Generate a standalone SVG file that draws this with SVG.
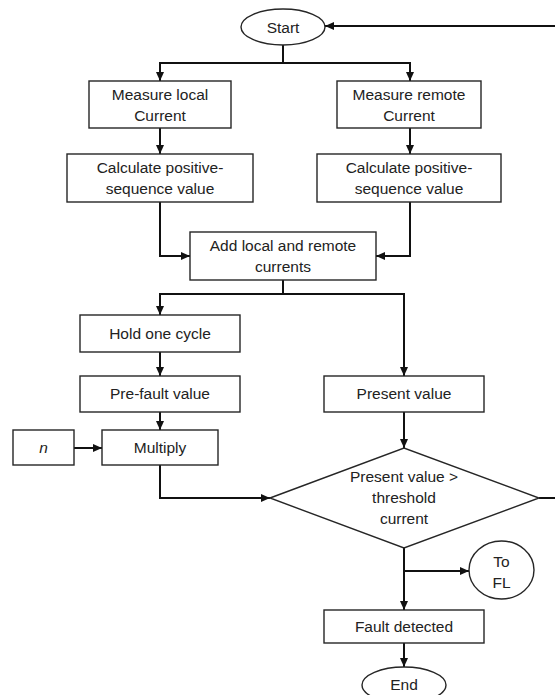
<svg xmlns="http://www.w3.org/2000/svg" width="555" height="695" viewBox="0 0 555 695">
<style>
.box{fill:#fff;stroke:#262626;stroke-width:1.4}
.t{font-family:"Liberation Sans",Arial,sans-serif;font-size:15.5px;fill:#222;text-anchor:middle}
.c{fill:none;stroke:#111;stroke-width:2}
</style>
<defs>
<marker id="ah" markerWidth="10" markerHeight="8" refX="9" refY="4" orient="auto" markerUnits="userSpaceOnUse">
<path d="M0,0 L9,4 L0,8 Z" fill="#111"/>
</marker>
</defs>
<rect width="555" height="695" fill="#fff"/>
<g id="connectors">
<path class="c" d="M555,26 L325,26" marker-end="url(#ah)"/>
<path class="c" d="M283,45 L283,63 L160,63 L160,81" marker-end="url(#ah)"/>
<path class="c" d="M283,63 L410,63 L410,81" marker-end="url(#ah)"/>
<path class="c" d="M160,128 L160,154" marker-end="url(#ah)"/>
<path class="c" d="M410,128 L410,154" marker-end="url(#ah)"/>
<path class="c" d="M160,202 L160,256 L190,256" marker-end="url(#ah)"/>
<path class="c" d="M410,202 L410,256 L376,256" marker-end="url(#ah)"/>
<path class="c" d="M283,280 L283,294 L160,294 L160,315" marker-end="url(#ah)"/>
<path class="c" d="M283,294 L404,294 L404,376" marker-end="url(#ah)"/>
<path class="c" d="M160,352 L160,376" marker-end="url(#ah)"/>
<path class="c" d="M160,412 L160,430" marker-end="url(#ah)"/>
<path class="c" d="M74,448 L102,448" marker-end="url(#ah)"/>
<path class="c" d="M160,465 L160,498 L270,498" marker-end="url(#ah)"/>
<path class="c" d="M404,412 L404,448" marker-end="url(#ah)"/>
<path class="c" d="M539,498 L555,498"/>
<path class="c" d="M404,548 L404,610" marker-end="url(#ah)"/>
<path class="c" d="M404,571 L469,571" marker-end="url(#ah)"/>
<path class="c" d="M404,643 L404,667" marker-end="url(#ah)"/>
</g>
<g id="start">
<ellipse class="box" cx="283" cy="27" rx="42" ry="18"/>
<text class="t" x="283" y="32.5">Start</text>
</g>
<g id="measure-local">
<rect class="box" x="89" y="81" width="142" height="47"/>
<text class="t" x="160" y="99.5">Measure local</text>
<text class="t" x="160" y="120.5">Current</text>
</g>
<g id="measure-remote">
<rect class="box" x="337" y="81" width="144" height="47"/>
<text class="t" x="409" y="99.5">Measure remote</text>
<text class="t" x="409" y="120.5">Current</text>
</g>
<g id="calc-local">
<rect class="box" x="67" y="154" width="186" height="48"/>
<text class="t" x="160" y="172.5">Calculate positive-</text>
<text class="t" x="160" y="194">sequence value</text>
</g>
<g id="calc-remote">
<rect class="box" x="317" y="154" width="184" height="48"/>
<text class="t" x="409" y="172.5">Calculate positive-</text>
<text class="t" x="409" y="194">sequence value</text>
</g>
<g id="add">
<rect class="box" x="190" y="232" width="186" height="48"/>
<text class="t" x="283" y="250.5">Add local and remote</text>
<text class="t" x="283" y="271.5">currents</text>
</g>
<g id="hold">
<rect class="box" x="80" y="315" width="160" height="37"/>
<text class="t" x="160" y="339">Hold one cycle</text>
</g>
<g id="prefault">
<rect class="box" x="80" y="376" width="160" height="36"/>
<text class="t" x="160" y="399">Pre-fault value</text>
</g>
<g id="present">
<rect class="box" x="324" y="376" width="160" height="36"/>
<text class="t" x="404" y="399">Present value</text>
</g>
<g id="n">
<rect class="box" x="13" y="430" width="61" height="35"/>
<text class="t" x="43.5" y="453" font-style="italic">n</text>
</g>
<g id="multiply">
<rect class="box" x="102" y="430" width="116" height="35"/>
<text class="t" x="160" y="453">Multiply</text>
</g>
<g id="decision">
<polygon class="box" points="270,498 404,448 539,498 404,548"/>
<text class="t" x="404" y="482">Present value &gt;</text>
<text class="t" x="404" y="503">threshold</text>
<text class="t" x="404" y="524">current</text>
</g>
<g id="to-fl">
<ellipse class="box" cx="501.5" cy="570" rx="32.5" ry="29"/>
<text class="t" x="501.5" y="567">To</text>
<text class="t" x="501.5" y="588">FL</text>
</g>
<g id="fault">
<rect class="box" x="324" y="610" width="160" height="33"/>
<text class="t" x="404" y="632">Fault detected</text>
</g>
<g id="end">
<ellipse class="box" cx="404" cy="685" rx="42" ry="18"/>
<text class="t" x="404" y="690">End</text>
</g>
</svg>
